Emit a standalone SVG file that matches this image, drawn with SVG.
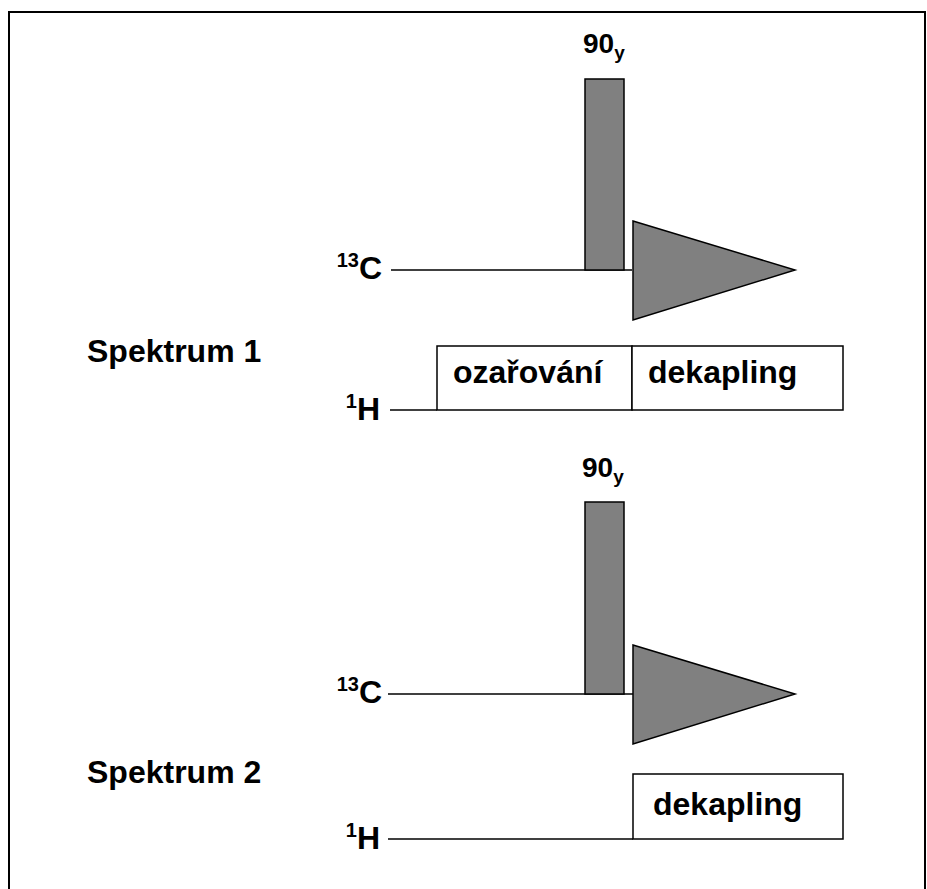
<svg xmlns="http://www.w3.org/2000/svg" width="927" height="889" viewBox="0 0 927 889">
<style>
text{font-family:"Liberation Sans",Arial,sans-serif;font-weight:bold;fill:#000}
.lbl{font-size:32px}
.big{font-size:32px}
.sup{font-size:20px}
.p90{font-size:28px}
.sub{font-size:19px}
.pulse{fill:#808080;stroke:#000;stroke-width:1.5}
.box{fill:#fff;stroke:#000;stroke-width:1.5}
.axis{stroke:#000;stroke-width:1.5;fill:none}
</style>
<rect x="9" y="12" width="916" height="900" fill="#fff" stroke="#000" stroke-width="2"/>
<g id="connectors">
<line class="axis" x1="391" y1="270" x2="632" y2="270"/>
<line class="axis" x1="390" y1="410" x2="437" y2="410"/>
<line class="axis" x1="388" y1="694" x2="633" y2="694"/>
<line class="axis" x1="388" y1="839" x2="633" y2="839"/>
</g>
<g id="spektrum1-label"><text class="lbl" x="87" y="362">Spektrum 1</text></g>
<g id="c13-1"><text x="382" y="279" text-anchor="end"><tspan class="sup" dy="-12">13</tspan><tspan class="big" dy="12">C</tspan></text></g>
<g id="pulse90-1">
<text x="583" y="53"><tspan class="p90">90</tspan><tspan class="sub" dy="6">y</tspan></text>
<rect class="pulse" x="585" y="79" width="39" height="191"/>
</g>
<g id="fid-1"><polygon class="pulse" points="633,221 795,270 633,320"/></g>
<g id="h1-1"><text x="380" y="420" text-anchor="end"><tspan class="sup" dy="-12">1</tspan><tspan class="big" dy="12">H</tspan></text></g>
<g id="ozarovani">
<rect class="box" x="437" y="346" width="195" height="64"/>
<text class="lbl" x="453" y="383">ozařování</text>
</g>
<g id="dekapling-1">
<rect class="box" x="632" y="346" width="211" height="64"/>
<text class="lbl" x="648" y="383">dekapling</text>
</g>
<g id="spektrum2-label"><text class="lbl" x="87" y="783">Spektrum 2</text></g>
<g id="c13-2"><text x="382" y="703" text-anchor="end"><tspan class="sup" dy="-12">13</tspan><tspan class="big" dy="12">C</tspan></text></g>
<g id="pulse90-2">
<text x="582" y="477"><tspan class="p90">90</tspan><tspan class="sub" dy="6">y</tspan></text>
<rect class="pulse" x="585" y="502" width="39" height="192"/>
</g>
<g id="fid-2"><polygon class="pulse" points="633,645 795,694 633,744"/></g>
<g id="h1-2"><text x="380" y="849" text-anchor="end"><tspan class="sup" dy="-12">1</tspan><tspan class="big" dy="12">H</tspan></text></g>
<g id="dekapling-2">
<rect class="box" x="633" y="774" width="210" height="65"/>
<text class="lbl" x="653" y="815">dekapling</text>
</g>
</svg>
